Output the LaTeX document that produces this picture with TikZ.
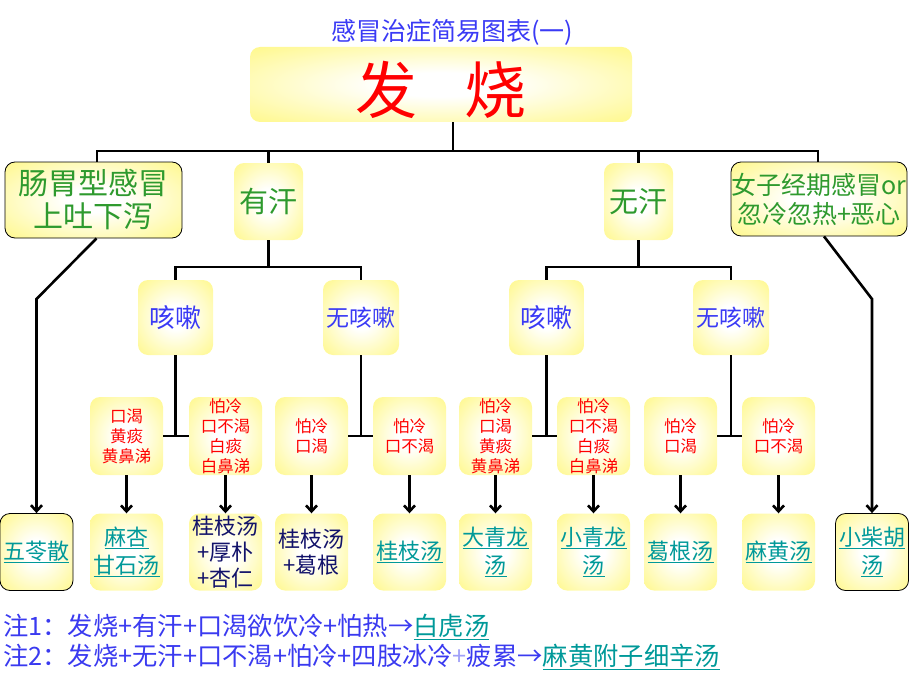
\documentclass[tikz,border=0pt]{standalone}
\usepackage{fontspec}
\setmainfont{Noto Sans CJK SC}
\usetikzlibrary{arrows.meta,calc}
\definecolor{yel}{HTML}{FFF88A}
\definecolor{grn}{HTML}{2E9A2E}
\definecolor{ttlblue}{HTML}{3A3AF5}
\definecolor{noteblue}{HTML}{3A3AF0}
\definecolor{paleblue}{HTML}{A0A0F8}
\definecolor{linkteal}{HTML}{009999}
\definecolor{navy}{HTML}{12126A}
\definecolor{redtxt}{HTML}{FF0000}
\pgfdeclareradialshading{glow}{\pgfpoint{0bp}{0bp}}{color(0bp)=(white); color(8bp)=(white); color(36bp)=(yel); color(50bp)=(yel)}
\newcommand\lk[1]{\underline{#1}}
\tikzset{
  box/.style={rounded corners=10pt, shade, shading=glow, align=center, inner sep=0pt},
  frame/.style={draw=black, line width=0.8pt},
  ln/.style={line width=2.6pt, black},
  arr/.style={ln, -{Straight Barb[length=6pt,width=11pt]}},
  lvltwo/.style={box, minimum width=69pt, minimum height=77pt, text=grn, font=\fontsize{29}{33}\selectfont},
  cough/.style={box, minimum width=75pt, minimum height=75pt, text=ttlblue},
  sym/.style={box, minimum width=73pt, minimum height=78pt, text=redtxt, font=\fontsize{16.5}{20}\selectfont},
  rx/.style={box, minimum width=73pt, minimum height=77pt, text=linkteal, font=\fontsize{22}{28}\selectfont},
  rxn/.style={rx, text=navy, font=\fontsize{22}{26}\selectfont},
}
\begin{document}
\begin{tikzpicture}[x=1pt,y=-1pt]
\useasboundingbox (0,0) rectangle (920,690);

% title
\node[text=ttlblue, font=\fontsize{25}{28}\selectfont] (title) at (452,32) {感冒治症简易图表(一)};

% top
\node[box, minimum width=382pt, minimum height=75pt] (top) at (441,84.5) {};
\node[text=redtxt, font=\fontsize{62}{70}\selectfont] (topt) at (441,90) {发\hspace{48pt}烧};

% level 2
\node[box, frame, minimum width=177pt, minimum height=76pt, text=grn, font=\fontsize{30}{33}\selectfont] (gut) at (93.5,200) {肠胃型感冒\\上吐下泻};
\node[lvltwo] (yh) at (268.5,201.5) {有汗};
\node[lvltwo] (wh) at (638.5,201.5) {无汗};
\node[box, frame, minimum width=176pt, minimum height=74pt, text=grn, font=\fontsize{25}{29}\selectfont] (fem) at (819,199) {女子经期感冒or\\忽冷忽热+恶心};

% level 3
\node[cough, font=\fontsize{26}{30}\selectfont] (k1) at (175.5,317.5) {咳嗽};
\node[cough, font=\fontsize{23}{27}\selectfont, minimum width=76pt] (n1) at (361,317.5) {无咳嗽};
\node[cough, font=\fontsize{26}{30}\selectfont] (k2) at (546.5,317.5) {咳嗽};
\node[cough, font=\fontsize{23}{27}\selectfont, minimum width=76pt] (n2) at (731,317.5) {无咳嗽};

% symptoms
\node[sym] (r1) at (126.5,436) {口渴\\黄痰\\黄鼻涕};
\node[sym] (r2) at (225.5,436) {怕冷\\口不渴\\白痰\\白鼻涕};
\node[sym] (r3) at (311.5,436) {怕冷\\口渴};
\node[sym] (r4) at (409.5,436) {怕冷\\口不渴};
\node[sym] (r5) at (495.5,436) {怕冷\\口渴\\黄痰\\黄鼻涕};
\node[sym] (r6) at (593.5,436) {怕冷\\口不渴\\白痰\\白鼻涕};
\node[sym] (r7) at (680.5,436) {怕冷\\口渴};
\node[sym] (r8) at (778.5,436) {怕冷\\口不渴};

% prescriptions
\node[rx, frame] (b0) at (36.5,552) {\lk{五苓散}};
\node[rx] (b1) at (126.5,552) {\lk{麻杏}\\\lk{甘石汤}};
\node[rxn] (b2) at (225.5,552) {桂枝汤\\+厚朴\\+杏仁};
\node[rxn] (b3) at (311.5,552) {桂枝汤\\+葛根};
\node[rx] (b4) at (409.5,552) {\lk{桂枝汤}};
\node[rx] (b5) at (495.5,552) {\lk{大青龙}\\\lk{汤}};
\node[rx] (b6) at (593.5,552) {\lk{小青龙}\\\lk{汤}};
\node[rx] (b7) at (680.5,552) {\lk{葛根汤}};
\node[rx] (b8) at (778.5,552) {\lk{麻黄汤}};
\node[rx, frame] (b9) at (872,552) {\lk{小柴胡}\\\lk{汤}};

% connectors: top bus
\coordinate (j0) at (453,151);
\coordinate (bl) at (97,151);
\coordinate (br) at (818,151);
\draw[ln] (top.south -| j0) -- (j0);
\draw[ln] (bl |- gut.north) -- (bl) -- (br) -- (br |- fem.north);
\draw[ln] (yh.north) -- (yh.north |- bl);
\draw[ln] (wh.north) -- (wh.north |- bl);

% level 2 -> 3
\coordinate (h1) at (268.5,267);
\draw[ln] (yh.south) -- (yh.south |- h1);
\draw[ln] (k1.north) -- (k1.north |- h1) -- (n1.north |- h1) -- (n1.north);
\draw[ln] (wh.south) -- (wh.south |- h1);
\draw[ln] (k2.north) -- (k2.north |- h1) -- (n2.north |- h1) -- (n2.north);

% level 3 -> symptoms
\draw[ln] (r1.east) -- (r2.west);
\draw[ln] (k1.south) -- (k1.south |- r1.east);
\draw[ln] (r3.east) -- (r4.west);
\draw[ln] (n1.south) -- (n1.south |- r3.east);
\draw[ln] (r5.east) -- (r6.west);
\draw[ln] (k2.south) -- (k2.south |- r5.east);
\draw[ln] (r7.east) -- (r8.west);
\draw[ln] (n2.south) -- (n2.south |- r7.east);

% arrows
\foreach \i in {1,...,8} {\draw[arr] (r\i.south) -- (b\i.north);}
\coordinate (gk) at (36.5,299);
\draw[arr] ([xshift=3pt]gut.south) -- (gk) -- (b0.north);
\coordinate (fk) at (872,299);
\draw[arr] ([xshift=5pt]fem.south) -- (fk) -- (b9.north);

% notes
\node[anchor=west, inner sep=0pt, align=left, text=noteblue, font=\fontsize{25.3}{30}\selectfont] (notes) at (3,642)
 {注1：发烧+有汗+口渴欲饮冷+怕热→\textcolor{linkteal}{\lk{白虎汤}}\\
  注2：发烧+无汗+口不渴+怕冷+四肢冰冷\textcolor{paleblue}{+}疲累→\textcolor{linkteal}{\lk{麻黄附子细辛汤}}};
\end{tikzpicture}
\end{document}
